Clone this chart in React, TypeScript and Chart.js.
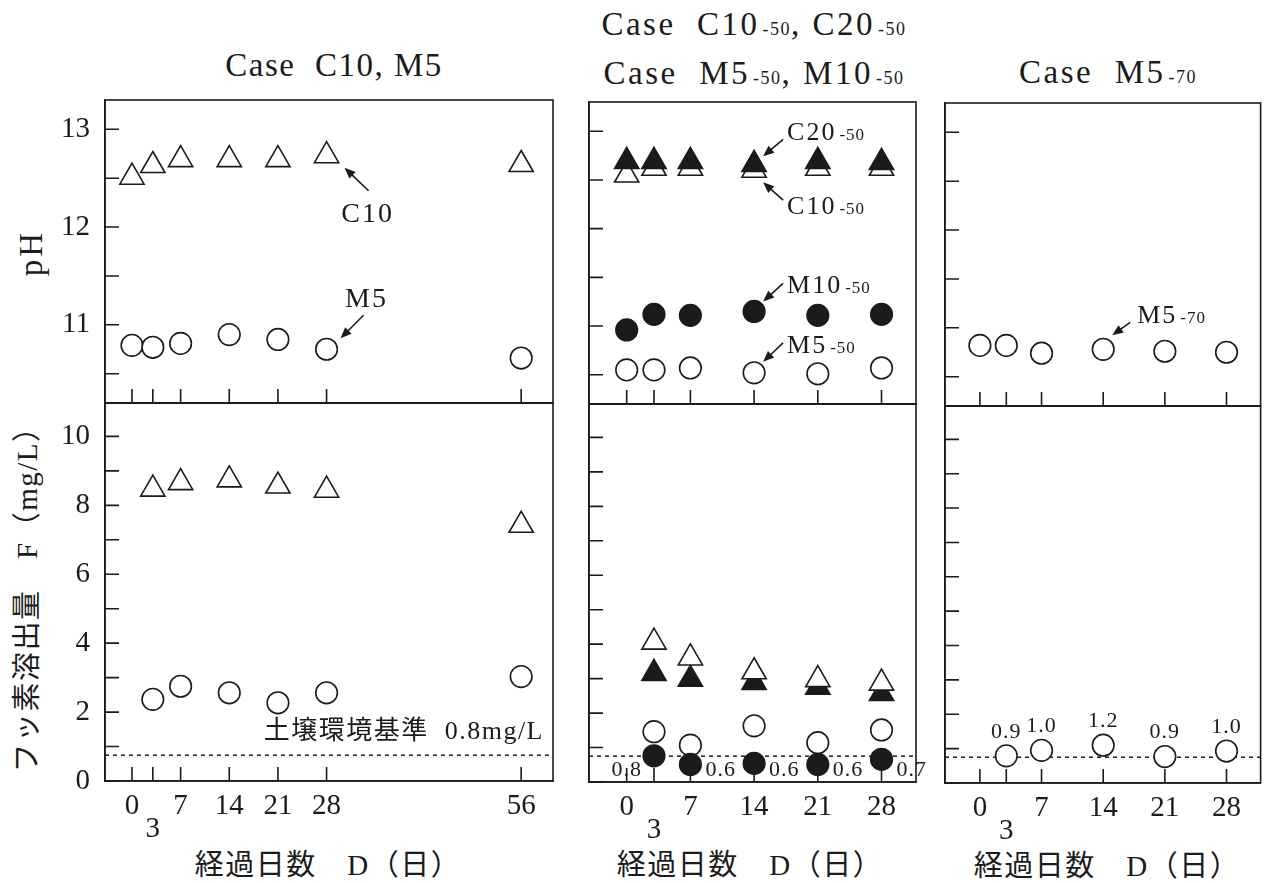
import React, { useEffect, useRef } from 'react';
import { Chart, registerables } from 'chart.js';

Chart.register(...registerables);

const W = 1273;
const H = 883;
const INK = '#1b1b1b';
const SERIF = "'Liberation Serif', 'Noto Sans CJK JP', serif";

// ---------------- data ----------------
const daysLeftPH = [0, 3, 7, 14, 21, 28, 56];
const pH_C10 = [12.51, 12.63, 12.69, 12.69, 12.69, 12.73, 12.64];
const pH_M5 = [10.79, 10.77, 10.81, 10.9, 10.85, 10.75, 10.66];
const daysLeftF = [3, 7, 14, 21, 28, 56];
const F_C10 = [8.47, 8.66, 8.74, 8.56, 8.44, 7.42];
const F_M5 = [2.37, 2.75, 2.56, 2.27, 2.56, 3.03];

const days50PH = [0, 3, 7, 14, 21, 28];
const pH_C10_50 = [12.55, 12.62, 12.62, 12.6, 12.62, 12.62];
const pH_C20_50 = [12.69, 12.69, 12.69, 12.66, 12.69, 12.68];
const pH_M10_50 = [10.96, 11.12, 11.11, 11.15, 11.11, 11.12];
const pH_M5_50 = [10.55, 10.55, 10.57, 10.52, 10.51, 10.57];
const days50F = [3, 7, 14, 21, 28];
const F_C10_50 = [4.06, 3.6, 3.2, 2.97, 2.87];
const F_C20_50 = [3.15, 2.98, 2.89, 2.75, 2.57];
const F_M5_50 = [1.46, 1.07, 1.63, 1.14, 1.51];
const F_M10_50 = [0.76, 0.51, 0.54, 0.51, 0.66];
const F_M10_50_labels = ['0.8', '0.6', '0.6', '0.6', '0.7'];

const days70PH = [0, 3, 7, 14, 21, 28];
const pH_M5_70 = [10.82, 10.82, 10.74, 10.78, 10.76, 10.75];
const days70F = [3, 7, 14, 21, 28];
const F_M5_70 = [0.79, 0.95, 1.1, 0.77, 0.93];
const F_M5_70_labels = ['0.9', '1.0', '1.2', '0.9', '1.0'];

const xTicksLong = [0, 3, 7, 14, 21, 28, 56];
const xTicksShort = [0, 3, 7, 14, 21, 28];
const pHTicks = [10.5, 11, 11.5, 12, 12.5, 13];
const FTicks = [0, 1, 2, 3, 4, 5, 6, 7, 8, 9, 10];
const standardF = 0.75;
const standardText = '土壌環境基準  0.8mg/L';

// ---------------- axis ranges ----------------
const LEFT_X = [-3.88, 60.58];
const MID_X = [-4.14, 31.79];
const RIGHT_X = [-3.96, 31.87];
const PH_RANGE = [10.2, 13.3];
const F_RANGE = [0, 10.97];

// ---------------- styles ----------------
const TRI_R = 14;
const CIR_R = 10.8;
const LW = 1.6;

const pts = (xs: number[], ys: number[]) => xs.map((x, i) => ({ x, y: ys[i] }));

const marker = (data: any[], style: string, filled: boolean) => ({
  data,
  pointStyle: style,
  pointRadius: style === 'triangle' ? TRI_R : CIR_R,
  pointHoverRadius: style === 'triangle' ? TRI_R : CIR_R,
  pointBackgroundColor: filled ? INK : '#ffffff',
  pointBorderColor: INK,
  pointBorderWidth: LW,
  backgroundColor: filled ? INK : '#ffffff',
  borderColor: INK,
  borderWidth: LW,
  showLine: false,
});

const dashed = (xr: number[], y: number) => ({
  data: [
    { x: xr[0], y },
    { x: xr[1], y },
  ],
  showLine: true,
  borderColor: INK,
  borderWidth: 1.5,
  borderDash: [4, 4],
  pointRadius: 0,
  pointHoverRadius: 0,
  fill: false,
});

function setFont(ctx: any, size: number, spacing: number) {
  ctx.font = `${size}px ${SERIF}`;
  ctx.letterSpacing = `${spacing}px`;
}

function drawLabel(ctx: any, x: number, yMid: number, main: string, sub: string | undefined, size: number, subSize: number, align: string) {
  ctx.save();
  ctx.fillStyle = INK;
  ctx.textBaseline = 'alphabetic';
  ctx.textAlign = 'left';
  setFont(ctx, size, 2);
  const wMain = ctx.measureText(main).width;
  let wSub = 0;
  if (sub) {
    setFont(ctx, subSize, 1);
    wSub = ctx.measureText(sub).width + 3;
  }
  const total = wMain + wSub;
  const x0 = align === 'center' ? x - total / 2 : x;
  const base = yMid + size * 0.33;
  setFont(ctx, size, 2);
  ctx.fillText(main, x0, base);
  if (sub) {
    setFont(ctx, subSize, 1);
    ctx.fillText(sub, x0 + wMain + 3, base);
  }
  ctx.restore();
}

function drawArrow(ctx: any, x1: number, y1: number, x2: number, y2: number) {
  const a = Math.atan2(y2 - y1, x2 - x1);
  const len = 11;
  const hw = 4.5;
  const c = Math.cos(a);
  const s = Math.sin(a);
  ctx.save();
  ctx.strokeStyle = INK;
  ctx.fillStyle = INK;
  ctx.lineWidth = 1.6;
  ctx.beginPath();
  ctx.moveTo(x1, y1);
  ctx.lineTo(x2 - c * len * 0.8, y2 - s * len * 0.8);
  ctx.stroke();
  ctx.beginPath();
  ctx.moveTo(x2, y2);
  ctx.lineTo(x2 - c * len + s * hw, y2 - s * len - c * hw);
  ctx.lineTo(x2 - c * len - s * hw, y2 - s * len + c * hw);
  ctx.closePath();
  ctx.fill();
  ctx.restore();
}

function makePlugin(spec: any) {
  return {
    id: 'frame_' + spec.key,
    beforeDatasetsDraw(chart: any) {
      const { ctx, chartArea: ca } = chart;
      const xs = chart.scales.x;
      const ys = chart.scales.y;
      ctx.save();
      ctx.strokeStyle = INK;
      ctx.lineWidth = LW;
      ctx.strokeRect(ca.left, ca.top, ca.right - ca.left, ca.bottom - ca.top);
      ctx.beginPath();
      xs.ticks.forEach((t: any) => {
        const px = xs.getPixelForValue(t.value);
        ctx.moveTo(px, ca.bottom);
        ctx.lineTo(px, ca.bottom - 14);
      });
      ys.ticks.forEach((t: any) => {
        const py = ys.getPixelForValue(t.value);
        ctx.moveTo(ca.left, py);
        ctx.lineTo(ca.left + 14, py);
      });
      ctx.stroke();
      ctx.restore();
    },
    afterDatasetsDraw(chart: any) {
      const { ctx, chartArea: ca } = chart;
      (spec.anns || []).forEach((an: any) => {
        const meta = chart.getDatasetMeta(an.ds);
        if (an.kind === 'arrow') {
          const p = meta.data[an.idx];
          drawArrow(ctx, p.x + an.tail[0], p.y + an.tail[1], p.x + an.tip[0], p.y + an.tip[1]);
          drawLabel(ctx, p.x + an.lx, p.y + an.ly, an.main, an.sub, an.size, an.subSize || 17, an.align);
        } else if (an.kind === 'values') {
          ctx.save();
          ctx.fillStyle = INK;
          ctx.textBaseline = 'middle';
          setFont(ctx, 22, 1);
          an.texts.forEach((txt: string, i: number) => {
            const p = meta.data[i];
            if (an.mode === 'above') {
              ctx.textAlign = 'center';
              ctx.fillText(txt, p.x, p.y - 24);
            } else if (i === 0) {
              ctx.textAlign = 'right';
              ctx.fillText(txt, p.x - 12, ca.bottom - 12);
            } else {
              ctx.textAlign = 'left';
              ctx.fillText(txt, p.x + 15, ca.bottom - 12);
            }
          });
          ctx.restore();
        } else if (an.kind === 'standard') {
          const y = chart.scales.y.getPixelForValue(standardF);
          ctx.save();
          ctx.fillStyle = INK;
          ctx.textBaseline = 'middle';
          ctx.textAlign = 'right';
          setFont(ctx, 26, 1.5);
          ctx.fillText(an.text, ca.right - 9, y - 23);
          ctx.restore();
        }
      });
    },
  };
}

function buildConfig(s: any) {
  return {
    type: 'scatter',
    data: { datasets: s.datasets },
    options: {
      animation: false,
      responsive: false,
      devicePixelRatio: 1,
      events: [],
      layout: { padding: { left: 0, top: s.box.t, right: W - s.box.r, bottom: 0 } },
      plugins: { legend: { display: false }, tooltip: { enabled: false } },
      scales: {
        x: {
          type: 'linear',
          position: 'bottom',
          min: s.xRange[0],
          max: s.xRange[1],
          afterBuildTicks: (sc: any) => {
            sc.ticks = s.xTicks.map((value: number) => ({ value }));
          },
          afterFit: (sc: any) => {
            sc.height = H - s.box.b;
          },
          grid: { display: false, drawTicks: false },
          border: { display: true, color: INK, width: LW },
          ticks: {
            display: s.showXLabels,
            autoSkip: false,
            maxRotation: 0,
            minRotation: 0,
            padding: 14,
            color: INK,
            font: { family: SERIF, size: 29, lineHeight: 0.8 },
            callback: (v: number) => (v === 3 ? ['', '3'] : String(v)),
          },
        },
        y: {
          type: 'linear',
          position: 'left',
          min: s.yRange[0],
          max: s.yRange[1],
          afterBuildTicks: (sc: any) => {
            sc.ticks = s.yTicks.map((value: number) => ({ value }));
          },
          afterFit: (sc: any) => {
            sc.width = s.box.l;
          },
          grid: { display: false, drawTicks: false },
          border: { display: true, color: INK, width: LW },
          ticks: {
            display: s.showYLabels,
            autoSkip: false,
            padding: 15,
            color: INK,
            font: { family: SERIF, size: 29 },
            callback: (v: number) => (s.yLabel(v) ? String(v) : ''),
          },
        },
      },
    },
    plugins: [makePlugin(s)],
  };
}

const isInt = (v: number) => Number.isInteger(v);
const isEven = (v: number) => Number.isInteger(v) && v % 2 === 0;

const panels: any[] = [
  {
    key: 'lt',
    box: { l: 105, t: 100, r: 553, b: 403 },
    xRange: LEFT_X,
    yRange: PH_RANGE,
    xTicks: xTicksLong,
    yTicks: pHTicks,
    yLabel: isInt,
    showYLabels: true,
    showXLabels: false,
    datasets: [marker(pts(daysLeftPH, pH_C10), 'triangle', false), marker(pts(daysLeftPH, pH_M5), 'circle', false)],
    anns: [
      { kind: 'arrow', ds: 0, idx: 5, main: 'C10', size: 28, align: 'center', lx: 41, ly: 57, tail: [42, 35], tip: [18, 12] },
      { kind: 'arrow', ds: 1, idx: 5, main: 'M5', size: 28, align: 'center', lx: 40, ly: -51, tail: [37, -34], tip: [14, -11] },
    ],
  },
  {
    key: 'lb',
    box: { l: 105, t: 403, r: 553, b: 781 },
    xRange: LEFT_X,
    yRange: F_RANGE,
    xTicks: xTicksLong,
    yTicks: FTicks,
    yLabel: isEven,
    showYLabels: true,
    showXLabels: true,
    datasets: [
      marker(pts(daysLeftF, F_C10), 'triangle', false),
      marker(pts(daysLeftF, F_M5), 'circle', false),
      dashed(LEFT_X, standardF),
    ],
    anns: [{ kind: 'standard', ds: 2, text: standardText }],
  },
  {
    key: 'mt',
    box: { l: 589, t: 102, r: 916, b: 404 },
    xRange: MID_X,
    yRange: PH_RANGE,
    xTicks: xTicksShort,
    yTicks: pHTicks,
    yLabel: isInt,
    showYLabels: false,
    showXLabels: false,
    datasets: [
      marker(pts(days50PH, pH_C20_50), 'triangle', true),
      marker(pts(days50PH, pH_C10_50), 'triangle', false),
      marker(pts(days50PH, pH_M10_50), 'circle', true),
      marker(pts(days50PH, pH_M5_50), 'circle', false),
    ],
    anns: [
      { kind: 'arrow', ds: 0, idx: 3, main: 'C20', sub: '-50', size: 26, subSize: 17, align: 'left', lx: 33, ly: -33, tail: [29, -25], tip: [9, -8] },
      { kind: 'arrow', ds: 1, idx: 3, main: 'C10', sub: '-50', size: 26, subSize: 17, align: 'left', lx: 33, ly: 35, tail: [29, 30], tip: [9, 12] },
      { kind: 'arrow', ds: 2, idx: 3, main: 'M10', sub: '-50', size: 26, subSize: 17, align: 'left', lx: 33, ly: -27, tail: [29, -28], tip: [9, -10] },
      { kind: 'arrow', ds: 3, idx: 3, main: 'M5', sub: '-50', size: 26, subSize: 17, align: 'left', lx: 33, ly: -28, tail: [29, -30], tip: [9, -11] },
    ],
  },
  {
    key: 'mb',
    box: { l: 589, t: 404, r: 916, b: 782 },
    xRange: MID_X,
    yRange: F_RANGE,
    xTicks: xTicksShort,
    yTicks: FTicks,
    yLabel: isEven,
    showYLabels: false,
    showXLabels: true,
    datasets: [
      marker(pts(days50F, F_C10_50), 'triangle', false),
      marker(pts(days50F, F_C20_50), 'triangle', true),
      marker(pts(days50F, F_M10_50), 'circle', true),
      marker(pts(days50F, F_M5_50), 'circle', false),
      dashed(MID_X, standardF),
    ],
    anns: [{ kind: 'values', ds: 2, texts: F_M10_50_labels, mode: 'row' }],
  },
  {
    key: 'rt',
    box: { l: 945, t: 103, r: 1271, b: 406 },
    xRange: RIGHT_X,
    yRange: PH_RANGE,
    xTicks: xTicksShort,
    yTicks: pHTicks,
    yLabel: isInt,
    showYLabels: false,
    showXLabels: false,
    datasets: [marker(pts(days70PH, pH_M5_70), 'circle', false)],
    anns: [
      { kind: 'arrow', ds: 0, idx: 3, main: 'M5', sub: '-70', size: 26, subSize: 17, align: 'left', lx: 34, ly: -35, tail: [27, -27], tip: [9, -14] },
    ],
  },
  {
    key: 'rb',
    box: { l: 945, t: 406, r: 1271, b: 783 },
    xRange: RIGHT_X,
    yRange: F_RANGE,
    xTicks: xTicksShort,
    yTicks: FTicks,
    yLabel: isEven,
    showYLabels: false,
    showXLabels: true,
    datasets: [marker(pts(days70F, F_M5_70), 'circle', false), dashed(RIGHT_X, standardF)],
    anns: [{ kind: 'values', ds: 0, texts: F_M5_70_labels, mode: 'above' }],
  },
];

function Panel({ spec }: { spec: any }) {
  const ref = useRef<HTMLCanvasElement>(null);
  useEffect(() => {
    const chart = new Chart(ref.current as any, buildConfig(spec) as any);
    return () => chart.destroy();
  }, []);
  return <canvas ref={ref} width={W} height={H} style={{ position: 'absolute', left: 0, top: 0, width: W, height: H }} />;
}

function Txt({ x, y, size, spacing = 0, rotate = false, children }: any) {
  return (
    <div
      style={{
        position: 'absolute',
        left: x,
        top: y,
        transform: `translate(-50%, -50%)${rotate ? ' rotate(-90deg)' : ''}`,
        fontFamily: SERIF,
        fontSize: size,
        lineHeight: 1,
        letterSpacing: spacing,
        whiteSpace: 'pre',
        color: INK,
      }}
    >
      {children}
    </div>
  );
}

const Sub = ({ children }: any) => (
  <span style={{ fontSize: 18, letterSpacing: 1.5, marginLeft: 3 }}>{children}</span>
);

export default function App() {
  return (
    <div style={{ position: 'absolute', left: 0, top: 0, width: W, height: H, background: '#ffffff', overflow: 'hidden' }}>
      <Txt x={334} y={65} size={33} spacing={1.5}>
        {'Case  C10, M5'}
      </Txt>
      <Txt x={754} y={24} size={33} spacing={2.5}>
        {'Case  C10'}
        <Sub>-50</Sub>
        {', C20'}
        <Sub>-50</Sub>
      </Txt>
      <Txt x={754} y={73} size={33} spacing={2.5}>
        {'Case  M5'}
        <Sub>-50</Sub>
        {', M10'}
        <Sub>-50</Sub>
      </Txt>
      <Txt x={1108} y={72} size={33} spacing={2.5}>
        {'Case  M5'}
        <Sub>-70</Sub>
      </Txt>
      <Txt x={31} y={253} size={33} spacing={3} rotate>
        pH
      </Txt>
      <Txt x={27} y={592} size={29} spacing={1.5} rotate>
        {'フッ素溶出量　F（mg/L）'}
      </Txt>
      <Txt x={328} y={865} size={29} spacing={1.5}>
        {'経過日数　D（日）'}
      </Txt>
      <Txt x={750} y={865} size={29} spacing={1.5}>
        {'経過日数　D（日）'}
      </Txt>
      <Txt x={1107} y={866} size={29} spacing={1.5}>
        {'経過日数　D（日）'}
      </Txt>
      {panels.map((p) => (
        <Panel key={p.key} spec={p} />
      ))}
    </div>
  );
}
